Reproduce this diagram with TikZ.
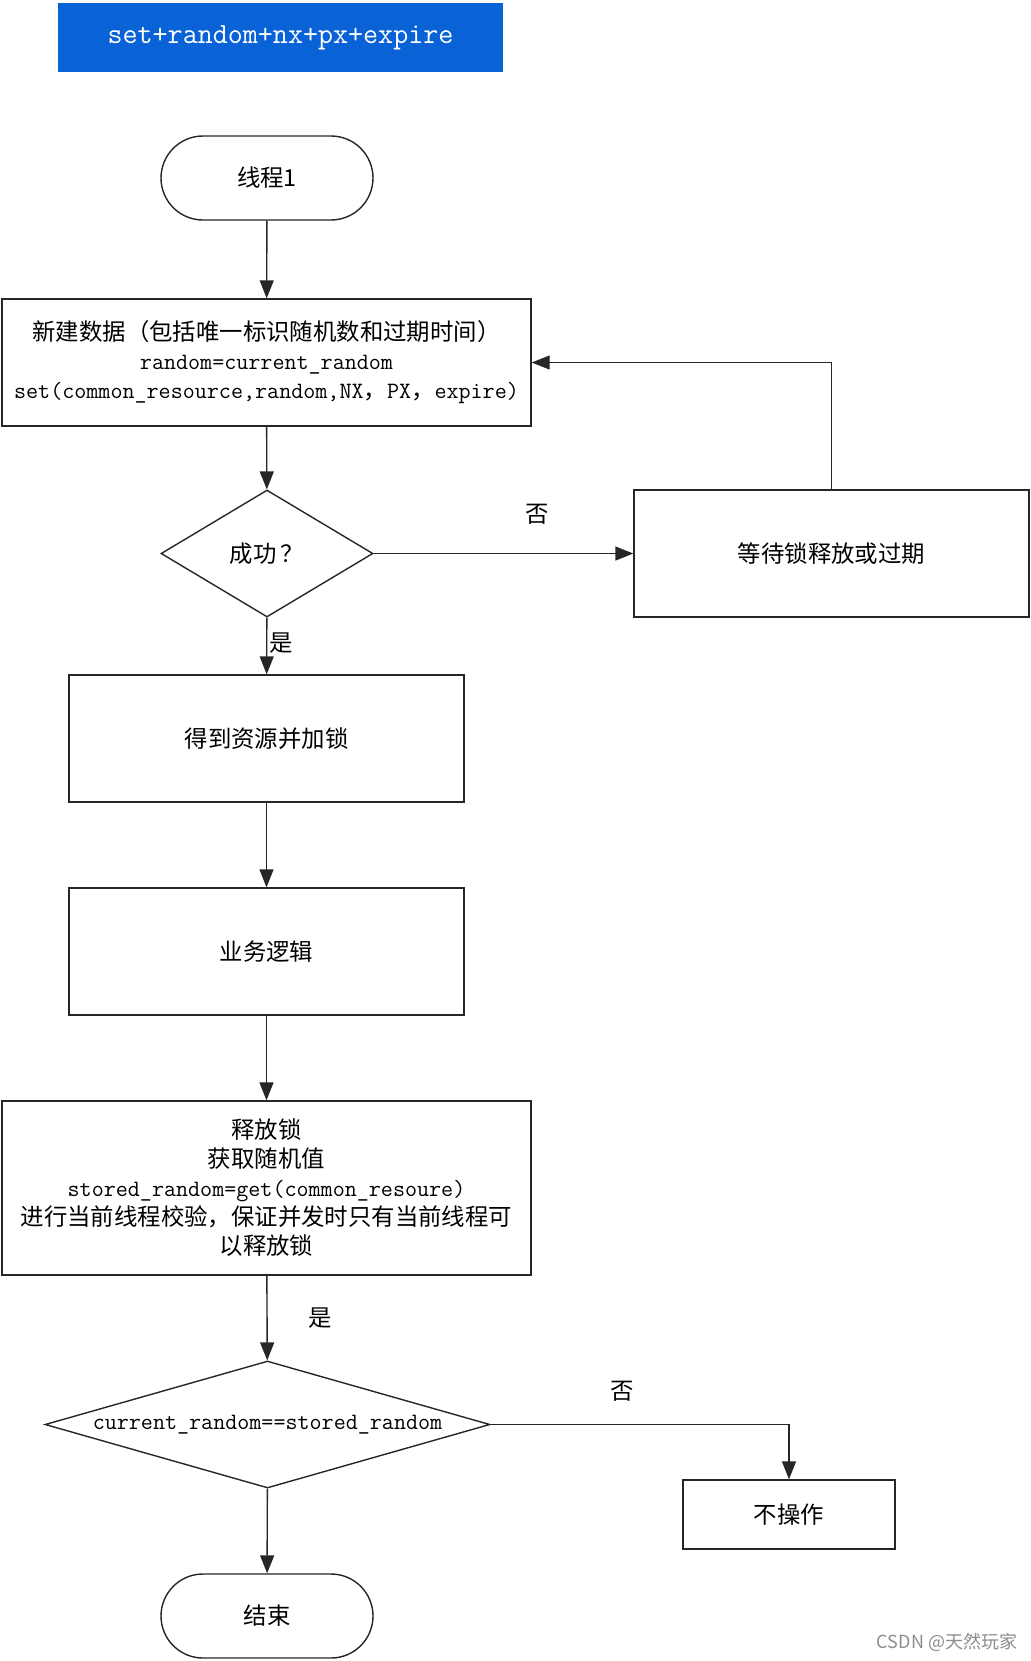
\documentclass[tikz,border=0pt]{standalone}
\usepackage{fontspec}
\setmainfont{Noto Sans CJK SC}
\usetikzlibrary{shapes.geometric, arrows.meta}

\definecolor{hdrblue}{RGB}{9,99,215}
\newcommand{\codetxt}[1]{{\ttfamily\fontsize{11.7}{14.5}\selectfont #1}}

\begin{document}
\begin{tikzpicture}[
    x=0.5pt, y=-0.5pt,
    cn/.style={font=\fontsize{11.7}{14.5}\selectfont},
    proc/.style={draw=black!85, line width=0.7pt, rectangle, align=center, inner sep=2pt, cn},
    term/.style={proc, rounded corners=21pt},
    dec/.style={draw=black!85, line width=0.7pt, diamond, inner sep=0pt, align=center, cn},
    flow/.style={draw=black!85, line width=0.7pt, -{Triangle[length=9pt,width=7pt]}},
    lbl/.style={cn, inner sep=1pt}
  ]
  \useasboundingbox (0,0) rectangle (1031,1661);

  \node[fill=hdrblue, text=white, minimum width=222.5pt, minimum height=34.5pt,
        font=\fontsize{14.6}{16}\selectfont\ttfamily] (hdr) at (280.5,37.5) {set+random+nx+px+expire};

  \node[term, minimum width=106pt, minimum height=42pt] (start) at (267,178) {线程1};

  \node[proc, minimum width=264.5pt, minimum height=63.5pt] (new) at (266.5,362.5)
    {新建数据（包括唯一标识随机数和过期时间）\\
     \codetxt{random=current\_random}\\
     \codetxt{set(common\_resource,random,NX{\rmfamily ，}PX{\rmfamily ，}expire)}};

  \node[dec, minimum width=106pt, minimum height=63.5pt, aspect=1.67] (ok) at (267,553.5) {成功\,？};

  \node[proc, minimum width=197.5pt, minimum height=63.5pt] (wait) at (831.5,553.5) {等待锁释放或过期};

  \node[proc, minimum width=197.5pt, minimum height=63.5pt] (lock) at (266.5,738.5) {得到资源并加锁};

  \node[proc, minimum width=197.5pt, minimum height=63.5pt] (biz) at (266.5,951.5) {业务逻辑};

  \node[proc, minimum width=264.5pt, minimum height=87pt] (rel) at (266.5,1188)
    {释放锁\\
     获取随机值\\
     \codetxt{stored\_random=get(common\_resoure)}\\
     进行当前线程校验，保证并发时只有当前线程可\\
     以释放锁};

  \node[dec, minimum width=222.5pt, minimum height=63.5pt, aspect=3.5] (same) at (267.5,1424.5)
    {\codetxt{current\_random==stored\_random}};

  \node[proc, minimum width=106pt, minimum height=34.5pt] (noop) at (789,1514.5) {不操作};

  \node[term, minimum width=106pt, minimum height=42pt] (stop) at (267,1616) {结束};

  % connectors
  \draw[flow] (start) -- (new);
  \draw[flow] (new) -- (ok);
  \draw[flow] (ok) -- node[lbl, pos=0.63, above=13pt] {否} (wait);
  \draw[flow] (wait.north) |- (new.east);
  \draw[flow] (ok) -- node[lbl, pos=0.45, right=0pt] {是} (lock);
  \draw[flow] (lock) -- (biz);
  \draw[flow] (biz) -- (rel);
  \draw[flow] (rel) -- node[lbl, midway, right=19.5pt] {是} (same);
  \draw[flow] (same.east) -| node[lbl, pos=0.22, above=10pt] {否} (noop.north);
  \draw[flow] (same) -- (stop);

  \node[text=black!45, font=\fontsize{9}{10}\selectfont] (mark) at (947,1642) {CSDN @天然玩家};
\end{tikzpicture}
\end{document}
